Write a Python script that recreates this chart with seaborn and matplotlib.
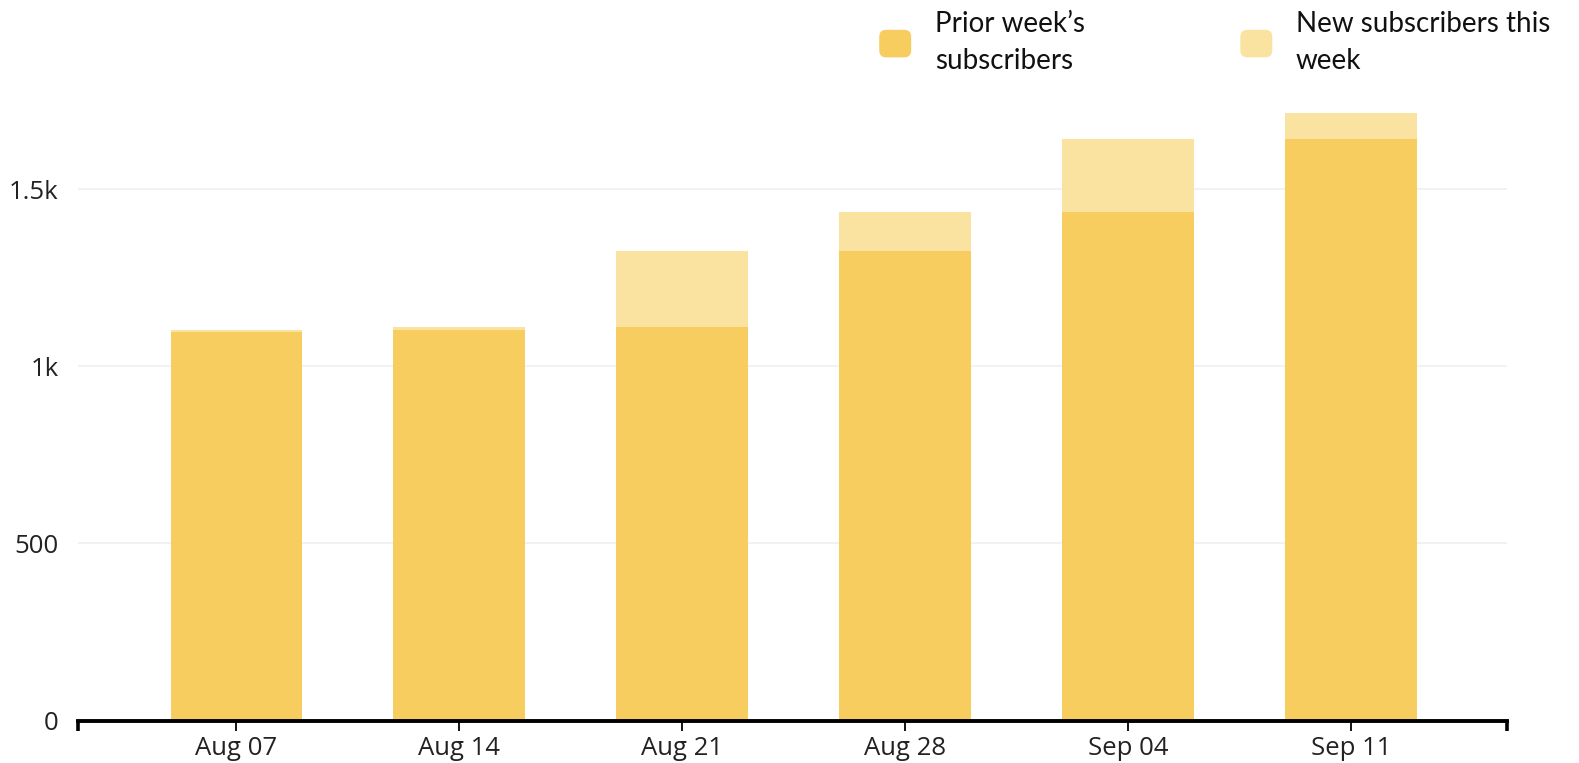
import numpy as np
import pandas as pd
import matplotlib
matplotlib.use("Agg")
import matplotlib.pyplot as plt
import seaborn as sns
from matplotlib.patches import Patch, FancyBboxPatch
from matplotlib.legend_handler import HandlerPatch
from matplotlib.ticker import FuncFormatter, FixedLocator

weeks = ["Aug 07", "Aug 14", "Aug 21", "Aug 28", "Sep 04", "Sep 11"]
prior_subs = [1097, 1103, 1110, 1326, 1435, 1640]
new_subs = [6, 7, 216, 109, 205, 74]
y_ticks = [0, 500, 1000, 1500]
legend_labels = ["Prior week\u2019s\nsubscribers", "New subscribers this\nweek"]

c_prior = "#F6CD5E"
c_new = "#FAE3A0"

df = pd.DataFrame({"week": weeks, "prior": prior_subs, "new": new_subs})
df["total"] = df["prior"] + df["new"]

sns.set_theme(style="white")
plt.rcParams["font.family"] = ["Open Sans", "DejaVu Sans"]

fig = plt.figure(figsize=(15.79, 7.63), dpi=100)
ax = fig.add_axes([0.0494, 0.0557, 0.905, 0.8126])

sns.barplot(data=df, x="week", y="total", color=c_new, saturation=1, width=0.59,
            ax=ax, zorder=2, linewidth=0)
sns.barplot(data=df, x="week", y="prior", color=c_prior, saturation=1, width=0.59,
            ax=ax, zorder=3, linewidth=0)

ax.set_xlim(-0.71, 5.70)
ax.set_ylim(0, 1750)
ax.set_xlabel("")
ax.set_ylabel("")

ax.yaxis.set_major_locator(FixedLocator(y_ticks))
ax.yaxis.set_major_formatter(FuncFormatter(lambda v, p: "0" if v == 0 else (f"{v/1000:g}k" if v >= 1000 else f"{int(v)}")))
ax.grid(axis="y", color="#efefef", linewidth=1.1, zorder=0)
ax.set_axisbelow(True)

for s in ["top", "right", "left"]:
    ax.spines[s].set_visible(False)
ax.spines["bottom"].set_color("black")
ax.spines["bottom"].set_linewidth(2.8)
ax.spines["bottom"].set_zorder(5)

ax.tick_params(axis="y", length=0, pad=14, labelsize=18.5, labelcolor="#222222")
ax.tick_params(axis="x", which="major", length=7, width=1.3, color="black", pad=4,
               labelsize=18.5, labelcolor="#222222", direction="out", bottom=True)
ax.set_xticks(ax.get_xlim(), minor=True)
ax.tick_params(axis="x", which="minor", length=7.5, width=2.6, color="black", direction="out", bottom=True)


class RoundHandler(HandlerPatch):
    def create_artists(self, legend, orig_handle, xdescent, ydescent, width, height, fontsize, trans):
        p = FancyBboxPatch((-xdescent, -ydescent), width, height,
                           boxstyle="round,pad=0,rounding_size=5",
                           facecolor=orig_handle.get_facecolor(), edgecolor="none")
        p.set_transform(trans)
        return [p]


handles = [Patch(facecolor=c_prior), Patch(facecolor=c_new)]
leg = fig.legend(handles, legend_labels, ncol=2, loc="upper left",
                 bbox_to_anchor=(0.541, 1.018), frameon=False,
                 prop={"family": ["Lato", "DejaVu Sans"], "size": 20},
                 handlelength=1.15, handleheight=1.15, handletextpad=0.85,
                 columnspacing=5.6, labelspacing=0.2,
                 handler_map={Patch: RoundHandler()})
for t in leg.get_texts():
    t.set_color("#111111")
    t.set_linespacing(1.5)

fig.savefig("out.png", dpi=100)
